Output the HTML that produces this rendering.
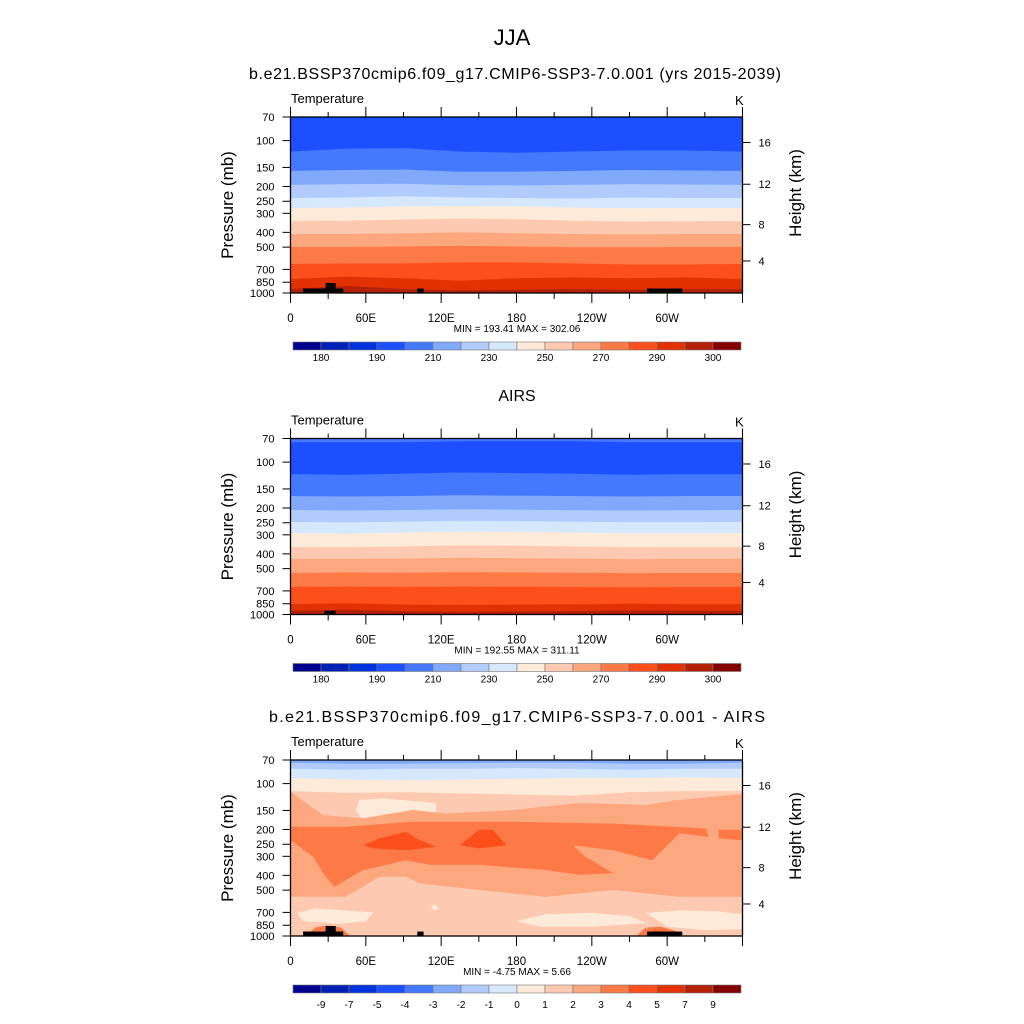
<!DOCTYPE html>
<html><head><meta charset="utf-8">
<style>
html,body{margin:0;padding:0;background:#fff;}
svg{display:block;font-family:"Liberation Sans",Arial,sans-serif;}
</style></head>
<body>
<svg id="fig" width="1024" height="1024" viewBox="0 0 1024 1024" xmlns="http://www.w3.org/2000/svg">
<rect x="0" y="0" width="1024" height="1024" fill="#fff"/>
<text x="512" y="45" font-size="22" text-anchor="middle">JJA</text>
<text x="515" y="79" font-size="16" text-anchor="middle" textLength="532">b.e21.BSSP370cmip6.f09_g17.CMIP6-SSP3-7.0.001 (yrs 2015-2039)</text>
<text x="517" y="401" font-size="16" text-anchor="middle">AIRS</text>
<text x="517" y="722" font-size="16" text-anchor="middle" textLength="496">b.e21.BSSP370cmip6.f09_g17.CMIP6-SSP3-7.0.001 - AIRS</text>
</svg>
<script>
// ---- data ----
const palette = ["#00008f","#0022b4","#0033dd","#1b4fff","#4479ff","#80a8fb","#b0cbfc","#d6e8fd","#feead8","#fdc9b0","#fda77f","#fd7a47","#fd4f1c","#e23204","#b32108","#850000"];
const pressureTicks = [70,100,150,200,250,300,400,500,700,850,1000];
const heightTicks = [4,8,12,16];
const lonTicks = [0,60,120,180,240,300,360];
const lonTickLabels = ["0","60E","120E","180","120W","60W",""];
const lonMinorTicks = [30,90,150,210,270,330];
const cbarLabelsAbs = ["180","190","210","230","250","270","290","300"];
const cbarLabelsDiff = ["-9","-7","-5","-4","-3","-2","-1","0","1","2","3","4","5","7","9"];
const bandLons = [0,45,90,135,180,225,270,315,360];
// panel 1 (model) band boundaries in mb
const p1Colors = [3,4,5,6,7,8,9,10,11,12,13,14];
const p1Bounds = [
 [118,113,112,118,120,118,116,116,118],
 [158,156,155,160,160,158,156,157,158],
 [195,193,192,196,197,195,193,194,195],
 [238,236,232,236,238,240,236,238,238],
 [277,275,270,268,270,275,278,277,277],
 [337,335,330,325,328,335,340,338,337],
 [410,410,405,400,405,410,412,410,410],
 [499,499,495,490,495,500,500,499,499],
 [645,640,640,630,630,640,650,650,645],
 [809,780,800,830,800,790,800,790,809],
 [941,900,940,960,950,940,950,940,941]
];
// panel 2 (AIRS)
const p2Colors = [4,3,4,5,6,7,8,9,10,11,12,13,14];
const p2Bounds = [
 [74,74,74,73,73,73,74,74,74],
 [120,121,119,117,118,119,121,120,120],
 [167,168,167,165,166,167,168,167,167],
 [206,208,206,204,205,207,208,207,206],
 [247,249,246,243,244,246,248,248,247],
 [292,294,290,285,286,290,293,293,292],
 [361,362,358,352,354,358,362,361,361],
 [432,432,430,425,427,430,433,432,432],
 [534,530,532,528,530,532,535,534,534],
 [660,655,660,655,658,660,662,660,660],
 [855,845,860,865,860,858,850,855,855],
 [945,930,950,960,955,950,940,945,945]
];
const terrainLon0 = [10,28,101,284];
const terrainLon1 = [42,36,106,312];
const terrainTopP = [935,860,935,935];
const airsTerrainLon0 = [27]; const airsTerrainLon1 = [36]; const airsTerrainP = [945];
// panel 3 (difference) contour regions: lon arrays, pressure arrays, colour index
const diffRegionColor = [8,10,11,11,12,12,8,8,8,8,11,12,11,12,5,7];
const diffRegionLon = [
 [55,75,116,116,97,58,52],
 [0,26,58,97,124,177,230,283,310,360,360,310,257,203,150,103,92,71,44,0],
 [0,44,97,177,257,331,333,310,288,257,225,235,257,230,203,150,111,92,71,58,35,28,18,0],
 [341,360,360,341],
 [58,71,92,100,116,92,66],
 [135,150,161,172,150],
 [5,20,44,66,60,40,10],
 [180,203,240,270,283,240,200],
 [283,310,341,360,360,330,300],
 [112,116,118,114],
 [12,20,30,40,47],
 [22,28,36,41],
 [276,283,295,306,312],
 [283,290,300,304],
 [34,35,36.5,36],
 [283.5,284.5,285,284]
];
const diffRegionP = [
 [128,125,134,165,175,175,150],
 [113,161,169,149,157,149,134,138,128,117,552,552,499,552,499,452,408,408,552,552],
 [192,192,178,178,183,197,224,212,318,274,254,302,387,396,369,341,341,318,350,369,475,408,302,235],
 [201,201,235,229],
 [254,229,207,229,260,274,266],
 [254,201,201,254,266],
 [705,660,680,700,800,830,800],
 [800,720,705,740,820,870,870],
 [705,680,690,720,900,915,870],
 [630,625,660,680],
 [990,880,850,880,990],
 [990,920,920,990],
 [990,880,870,920,990],
 [990,920,930,990],
 [990,870,870,990],
 [900,800,800,900]
];
const statsText = ["MIN = 193.41  MAX = 302.06","MIN = 192.55  MAX = 311.11","MIN = -4.75  MAX =  5.66"];

// ---- axes ----
const NS="http://www.w3.org/2000/svg";
const svg=document.getElementById('fig');
const X0=290.5, X1=742.5, PH=176;
const panelTops=[117,438.5,760];
function xOf(lon){return X0+lon/360*(X1-X0);}
function yOf(p,top){return top+Math.log10(p/70)/Math.log10(1000/70)*PH;}
function pOfZ(zkm){const z=zkm*1000; if(z<=11000) return 1013.25*Math.pow(1-2.2558e-5*z,5.2559); return 226.32*Math.exp(-(z-11000)/6341.6);}
function mk(tag,attrs,parent){const e=document.createElementNS(NS,tag);for(const k in attrs)e.setAttribute(k,attrs[k]);(parent||svg).appendChild(e);return e;}
function interp(arr,lon){for(let i=0;i<bandLons.length-1;i++){if(lon<=bandLons[i+1]){const t=(lon-bandLons[i])/(bandLons[i+1]-bandLons[i]);return arr[i]+t*(arr[i+1]-arr[i]);}}return arr[arr.length-1];}

function drawBands(g,top,colors,bounds){
  const r=mk('rect',{x:X0,y:top,width:X1-X0,height:PH,fill:palette[colors[0]]},g);
  
  
  bounds.forEach((b,k)=>{
    let pts=[];
    for(let lon=0;lon<=360;lon+=5){pts.push(xOf(lon).toFixed(1)+','+yOf(interp(b,lon),top).toFixed(1));}
    pts.push(X1+','+(top+PH)); pts.push(X0+','+(top+PH));
    const poly=mk('polygon',{points:pts.join(' '),fill:palette[colors[k+1]]},g);
    
    
  });
}
function drawTerrain(g,top,l0,l1,pt){
  l0.forEach((v,i)=>{
    const y=yOf(pt[i],top);
    const r=mk('rect',{x:xOf(v),y:y,width:xOf(l1[i])-xOf(v),height:top+PH-y,fill:'#000'},g);
    
    
  });
}
function drawAxes(idx,top,isDiff){
  const g=mk('g',{});
  
  
  const box=mk('rect',{x:X0,y:top,width:X1-X0,height:PH,fill:'none',stroke:'#000','stroke-width':1.3},g);
  
  
  pressureTicks.forEach(p=>{
    const y=yOf(p,top);
    mk('line',{x1:X0-8,x2:X0,y1:y,y2:y,stroke:'#000','stroke-width':1},g);
    const t=mk('text',{x:X0-16,y:y+4,'font-size':11,'text-anchor':'end'},g);t.textContent=p;
    
    
  });
  heightTicks.forEach(h=>{
    const y=yOf(pOfZ(h),top);
    mk('line',{x1:X1,x2:X1+8,y1:y,y2:y,stroke:'#000','stroke-width':1},g);
    const t=mk('text',{x:X1+16,y:y+4,'font-size':11},g);t.textContent=h;
    
    
  });
  lonTicks.forEach((l,i)=>{
    const x=xOf(l);
    mk('line',{x1:x,x2:x,y1:top+PH,y2:top+PH+10,stroke:'#000','stroke-width':1},g);
    mk('line',{x1:x,x2:x,y1:top-10,y2:top,stroke:'#000','stroke-width':1},g);
    const t=mk('text',{x:x,y:top+PH+29,'font-size':11.5,'text-anchor':'middle'},g);t.textContent=lonTickLabels[i];
    
    
  });
  lonMinorTicks.forEach(l=>{
    const x=xOf(l);
    mk('line',{x1:x,x2:x,y1:top+PH,y2:top+PH+6,stroke:'#000','stroke-width':1},g);
    mk('line',{x1:x,x2:x,y1:top-5,y2:top,stroke:'#000','stroke-width':1},g);
  });
  let t=mk('text',{x:291,y:top-14,'font-size':13},g);t.textContent='Temperature';
  
  
  t=mk('text',{x:735,y:top-12,'font-size':13},g);t.textContent='K';
  
  
  t=mk('text',{x:0,y:0,'font-size':17,'text-anchor':'middle',transform:`translate(233,${top+PH/2}) rotate(-90)`},g);t.textContent='Pressure (mb)';
  
  
  t=mk('text',{x:0,y:0,'font-size':17,'text-anchor':'middle',transform:`translate(801,${top+PH/2-12}) rotate(-90)`},g);t.textContent='Height (km)';
  
  
  t=mk('text',{x:517,y:top+PH+39,'font-size':10,'text-anchor':'middle'},g);t.textContent=statsText[idx];
  
  
  // colorbar
  const cy=top+PH+49, cw=(741-293)/16;
  const cb=mk('g',{},g);
  
  
  palette.forEach((c,i)=>{
    const r=mk('rect',{x:293+i*cw,y:cy,width:cw,height:8,fill:c,stroke:'#777','stroke-width':0.6},cb);
    
    
  });
  if(isDiff){
    cbarLabelsDiff.forEach((s,i)=>{const tt=mk('text',{x:293+(i+1)*cw,y:cy+23,'font-size':10,'text-anchor':'middle'},cb);tt.textContent=s;
      
      });
  } else {
    cbarLabelsAbs.forEach((s,i)=>{const tt=mk('text',{x:293+(2*i+1)*cw,y:cy+19,'font-size':10,'text-anchor':'middle'},cb);tt.textContent=s;
      
      });
  }
}

// panel 1
let g1=mk('g',{});


drawBands(g1,panelTops[0],p1Colors,p1Bounds);
drawTerrain(g1,panelTops[0],terrainLon0,terrainLon1,terrainTopP);
drawAxes(0,panelTops[0],false);
// panel 2
let g2=mk('g',{});


drawBands(g2,panelTops[1],p2Colors,p2Bounds);
drawTerrain(g2,panelTops[1],airsTerrainLon0,airsTerrainLon1,airsTerrainP);
drawAxes(1,panelTops[1],false);
// panel 3
let g3=mk('g',{});


const top3=panelTops[2];
drawBands(g3,top3,[5,6,7,8,9],[[73,74,74,73.5,73,73,74,74,73],[80,81,80,80,79,80,81,80,80],[92,94,95,94,93,92,92,91,92],[112,115,114,116,118,120,114,112,112]]);
diffRegionLon.forEach((lons,i)=>{
  const pts=lons.map((l,j)=>xOf(l).toFixed(1)+','+yOf(diffRegionP[i][j],top3).toFixed(1)).join(' ');
  const poly=mk('polygon',{points:pts,fill:palette[diffRegionColor[i]]},g3);
  
  
});
drawTerrain(g3,top3,terrainLon0,terrainLon1,terrainTopP);
drawAxes(2,top3,true);
</script>
</body></html>
